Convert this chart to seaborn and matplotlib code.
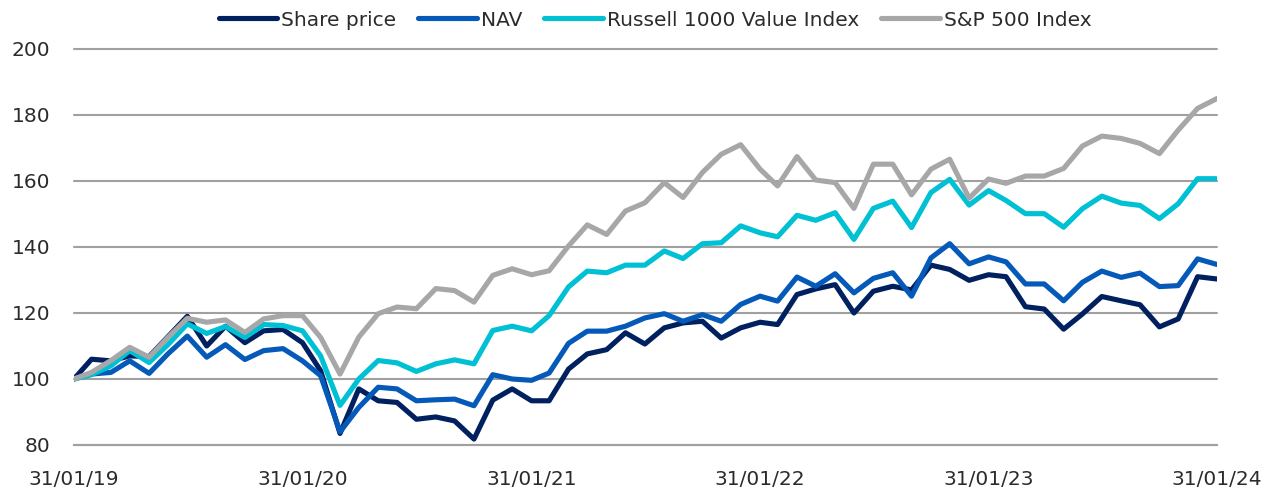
import numpy as np
import pandas as pd
import matplotlib
matplotlib.use('Agg')
import matplotlib.pyplot as plt
import seaborn as sns

# ---- data (indexed to 100 at 31/01/19, month-end values) ----
dates = pd.date_range('2019-01-31', periods=61, freq='ME')

series_names = ['Share price', 'NAV', 'Russell 1000 Value Index', 'S&P 500 Index']

share_price = [100, 106, 105.5, 107, 106.8, 112.8, 119, 110, 116, 111,
               114.6, 115, 111, 102.5, 83.5, 97, 93.4, 92.9, 87.8, 88.5,
               87.3, 81.8, 93.6, 97, 93.4, 93.4, 103, 107.6, 108.9, 114,
               110.6, 115.5, 117, 117.5, 112.4, 115.5, 117.2, 116.5, 125.6, 127.3,
               128.6, 120, 126.6, 128.1, 127, 134.5, 133.2, 129.9, 131.6, 131,
               121.9, 121.2, 115.1, 119.7, 125, 123.7, 122.5, 115.8, 118.2, 131, 130.3]

nav = [100, 101.5, 102, 105.5, 101.7, 107.6, 113, 106.6, 110.4, 105.9,
       108.6, 109.2, 105.5, 101, 84, 91.4, 97.5, 97, 93.4, 93.7,
       93.9, 91.9, 101.3, 100, 99.6, 101.8, 110.8, 114.5, 114.5, 116,
       118.5, 119.8, 117.5, 119.5, 117.5, 122.6, 125.1, 123.6, 130.9, 128.1,
       131.9, 126.1, 130.5, 132.2, 125.1, 136.7, 141, 134.9, 137, 135.5,
       128.8, 128.8, 123.7, 129.3, 132.7, 130.8, 132.1, 128, 128.3, 136.4, 134.7]

russell_1000_value = [100, 101.3, 104, 108.6, 105, 110.4, 116.7, 113.8, 115.9, 112.6,
                      116.5, 116.2, 114.6, 107, 92, 100, 105.6, 104.9, 102.3, 104.6,
                      105.8, 104.6, 114.7, 116, 114.6, 119.2, 127.9, 132.7, 132.2, 134.5,
                      134.5, 138.8, 136.5, 141, 141.3, 146.4, 144.3, 143.1, 149.6, 148.1,
                      150.4, 142.3, 151.7, 153.9, 145.9, 156.5, 160.5, 152.7, 157.1, 154.1,
                      150.1, 150.1, 146, 151.6, 155.4, 153.3, 152.6, 148.6, 153.1, 160.7, 160.7]

sp500 = [100, 102, 105.6, 109.6, 106.6, 112.6, 118.4, 117.2, 117.9, 114.1,
         118.2, 119.2, 119.2, 112.6, 101.5, 112.7, 119.8, 121.8, 121.3, 127.4,
         126.8, 123.3, 131.4, 133.4, 131.6, 132.8, 140.3, 146.7, 143.8, 150.9,
         153.4, 159.5, 155, 162.6, 168.1, 171, 163.6, 158.5, 167.4, 160.3,
         159.5, 151.7, 165.1, 165.1, 155.8, 163.6, 166.6, 154.8, 160.6, 159.3,
         161.5, 161.5, 163.8, 170.6, 173.6, 172.9, 171.4, 168.3, 175.4, 182, 185]

y_ticks = [80, 100, 120, 140, 160, 180, 200]
x_tick_dates = dates[::12]
x_tick_labels = [d.strftime('%d/%m/%y') for d in x_tick_dates]

colors = ['#002060', '#0459B9', '#00C0D4', '#A7A7A9']

df = pd.DataFrame({
    'date': np.tile(dates, 4),
    'series': np.repeat(series_names, len(dates)),
    'value': np.concatenate([share_price, nav, russell_1000_value, sp500]),
})

sns.set_theme(style='white')
plt.rcParams['font.family'] = ['DejaVu Sans']

W, H = 1276, 491
fig = plt.figure(figsize=(W / 100, H / 100), dpi=100)
ax = fig.add_axes([74 / W, (H - 445) / H, (1217 - 74) / W, (445 - 49) / H])

sns.lineplot(data=df, x='date', y='value', hue='series', hue_order=series_names,
             palette=colors, linewidth=3.7, ax=ax, solid_capstyle='round')

ax.set_xlim(dates[0], dates[-1])
ax.set_ylim(80, 200)
ax.set_yticks(y_ticks)
ax.set_xticks(x_tick_dates)
ax.set_xticklabels(x_tick_labels)
ax.set_xlabel('')
ax.set_ylabel('')

grid_col = '#A0A0A0'
ax.yaxis.grid(True, color=grid_col, linewidth=1.5)
ax.xaxis.grid(False)
ax.set_axisbelow(True)
for gl in ax.get_ygridlines():
    gl.set_clip_on(False)

for s in ['top', 'right', 'left']:
    ax.spines[s].set_visible(False)
ax.spines['bottom'].set_color(grid_col)
ax.spines['bottom'].set_linewidth(1.5)

text_col = '#2b2b2b'
ax.tick_params(axis='y', length=0, pad=17, labelsize=14.5, labelcolor=text_col)
ax.tick_params(axis='x', direction='out', length=7, width=1.5, color=grid_col,
               pad=11, labelsize=14.5, labelcolor=text_col)

handles, labels = ax.get_legend_handles_labels()
ax.legend(handles, labels, loc='center', bbox_to_anchor=(655 / W, 1 - 20 / H),
          bbox_transform=fig.transFigure, ncol=4, frameon=False, fontsize=14.5,
          handlelength=2.9, handletextpad=0.2, columnspacing=1.1, labelcolor=text_col)

fig.savefig('out.png', dpi=100)
